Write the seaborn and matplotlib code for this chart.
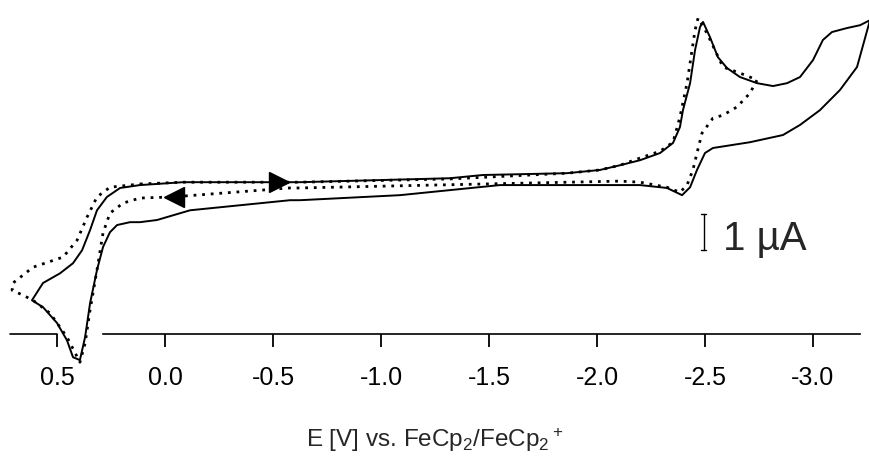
import numpy as np
import matplotlib
matplotlib.use("Agg")
import matplotlib.pyplot as plt
import seaborn as sns

# potential (V vs FeCp2/FeCp2+) and current (uA), solid scan in scan order
e_solid = [0.116, -0.083, -0.519, -0.625, -1.319, -1.472, -1.861, -2.014, -2.106, -2.199,
           -2.292, -2.352, -2.384, -2.398, -2.431, -2.454, -2.477, -2.491, -2.523, -2.560,
           -2.602, -2.662, -2.741, -2.815, -2.880, -2.940, -3.000, -3.046, -3.088, -3.157,
           -3.218, -3.264, -3.300, -3.264, -3.204, -3.125, -3.032, -2.940, -2.861, -2.708,
           -2.537, -2.500, -2.463, -2.431, -2.394, -2.324, -2.199, -2.106, -1.551, -1.319,
           -1.088, -0.625, -0.579, -0.116, 0.037, 0.116, 0.162, 0.222, 0.255, 0.287,
           0.315, 0.347, 0.370, 0.394, 0.426, 0.454, 0.500, 0.565, 0.616, 0.565,
           0.486, 0.426, 0.384, 0.347, 0.315, 0.269, 0.208, 0.116]
i_solid = [4.14, 4.22, 4.22, 4.22, 4.33, 4.42, 4.47, 4.56, 4.69, 4.83,
           5.03, 5.31, 5.75, 6.22, 6.97, 7.89, 8.53, 8.67, 8.25, 7.69,
           7.39, 7.14, 6.97, 6.89, 6.97, 7.14, 7.61, 8.17, 8.39, 8.50,
           8.58, 8.72, 8.82, 8.17, 7.42, 6.78, 6.22, 5.81, 5.53, 5.33,
           5.17, 5.03, 4.56, 4.08, 3.86, 4.06, 4.14, 4.14, 4.14, 4.00,
           3.86, 3.72, 3.72, 3.44, 3.17, 3.11, 3.11, 3.03, 2.83, 2.42,
           1.78, 0.86, -0.08, -0.72, -0.64, -0.17, 0.31, 0.75, 0.94, 1.42,
           1.69, 1.97, 2.33, 2.89, 3.44, 3.81, 4.06, 4.14]

# dotted scan (reversed at -2.74 V)
e_dot = [0.116, -0.083, -0.519, -0.625, -1.319, -1.861, -2.014, -2.106, -2.199, -2.292,
         -2.352, -2.384, -2.417, -2.440, -2.454, -2.468, -2.509, -2.583, -2.662, -2.741,
         -2.708, -2.648, -2.583, -2.537, -2.486, -2.463, -2.444, -2.417, -2.384, -2.324,
         -2.199, -2.106, -1.241, -0.625, -0.579, -0.032, 0.116, 0.194, 0.255, 0.287,
         0.315, 0.347, 0.370, 0.394, 0.454, 0.532, 0.611, 0.657, 0.708, 0.704,
         0.611, 0.472, 0.407, 0.361, 0.315, 0.255, 0.116]
i_dot = [4.17, 4.22, 4.22, 4.22, 4.31, 4.47, 4.56, 4.69, 4.89, 5.08,
         5.33, 6.03, 6.97, 7.89, 8.44, 8.78, 8.36, 7.42, 7.25, 7.06,
         6.69, 6.31, 6.08, 6.00, 5.58, 5.03, 4.56, 4.14, 3.94, 4.08,
         4.22, 4.25, 4.14, 4.06, 4.06, 3.81, 3.78, 3.64, 3.36, 2.81,
         1.78, 0.67, -0.25, -0.78, -0.08, 0.58, 0.94, 1.08, 1.22, 1.42,
         1.86, 2.14, 2.61, 3.25, 3.81, 4.08, 4.17]

# scan direction arrows
arrow_fwd = (-0.53, 4.22)
arrow_back = (-0.04, 3.82)

tick_vals = [0.5, 0.0, -0.5, -1.0, -1.5, -2.0, -2.5, -3.0]
tick_labels = ["0.5", "0.0", "-0.5", "-1.0", "-1.5", "-2.0", "-2.5", "-3.0"]

# 1 uA scale bar
bar_e = -2.495
bar_i = (2.33, 3.33)

sns.set_style("ticks")
plt.rcParams['font.family'] = ['Liberation Sans', 'DejaVu Sans']
plt.rcParams['mathtext.fontset'] = 'custom'
plt.rcParams['mathtext.rm'] = 'Liberation Sans'
plt.rcParams['mathtext.it'] = 'Liberation Sans'
plt.rcParams['mathtext.default'] = 'regular'

fig = plt.figure(figsize=(8.7, 4.57), dpi=100)
ax = fig.add_axes([0.0, 0.19, 1.0, 0.799])

sns.lineplot(x=e_solid, y=i_solid, sort=False, estimator=None, ax=ax,
             color="black", linewidth=1.4)
sns.lineplot(x=e_dot, y=i_dot, sort=False, estimator=None, ax=ax,
             color="black", linewidth=2.0, linestyle=(0, (1, 2.1)))

ax.plot(*arrow_fwd, marker=">", markersize=15, color="black")
ax.plot(*arrow_back, marker="<", markersize=15, color="black")

# scale bar
ax.plot([bar_e, bar_e], bar_i, color="black", linewidth=1.0)
ax.plot([bar_e + 0.012, bar_e - 0.012], [bar_i[0]] * 2, color="black", linewidth=1.0)
ax.plot([bar_e + 0.012, bar_e - 0.012], [bar_i[1]] * 2, color="black", linewidth=1.0)
ax.text(bar_e - 0.088, bar_i[0], "1 \u00b5A", fontsize=29, va="baseline", ha="left")

ax.set_xlim(0.764, -3.264)
ax.set_ylim(-1.0, 9.14)

for s in ["top", "right", "left"]:
    ax.spines[s].set_visible(False)
ax.spines["bottom"].set_position(("data", 0))
ax.spines["bottom"].set_bounds(0.287, -3.218)
ax.spines["bottom"].set_linewidth(1.2)
ax.spines["bottom"].set_color("black")
# left piece of the axis line (broken where the oxidation wave dips below it)
ax.plot([0.718, 0.5], [0, 0], color="black", linewidth=1.2, zorder=1)

ax.set_xticks(tick_vals)
ax.set_xticklabels(tick_labels)
ax.set_yticks([])
ax.tick_params(axis="x", direction="out", length=9, width=1.3, pad=14,
               labelsize=18, bottom=True, color="black", labelcolor="black")

fig.text(0.5, 1 - 440 / 457, r"E [V] vs. FeCp$_2$/FeCp$_2{}^+$", fontsize=17.5,
         ha="center", va="center")

fig.savefig("out.png", dpi=100)
